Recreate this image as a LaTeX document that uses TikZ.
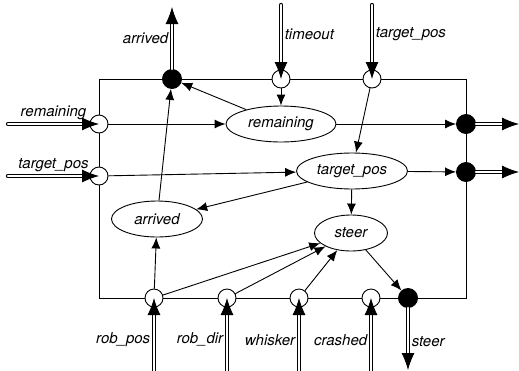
\documentclass[tikz,border=0pt]{standalone}
\usepackage{fontspec}
\setmainfont{TeX Gyre Heros}
\usetikzlibrary{arrows.meta,shapes}
\tikzset{>={Latex[length=11pt,width=9pt]}}
\tikzset{
  txt/.style = {font=\fontsize{15}{18}\selectfont\itshape},
  port/.style = {circle, draw, fill=white, minimum size=18pt, inner sep=0pt},
  outport/.style = {circle, draw, fill=black, minimum size=19pt, inner sep=0pt},
  proc/.style = {ellipse, draw, minimum height=36pt, inner sep=0pt, txt},
  flow/.style = {double, double distance=2.6pt, line width=0.9pt, line cap=round,
    -{Latex[length=17pt,width=13pt]}}
}

\begin{document}
\begin{tikzpicture}[x=1pt,y=-1pt,line width=0.9pt]
  \useasboundingbox (0,0) rectangle (519,370);
  % component
  \draw (99,79) rectangle (466,298);
  % processes
  \node[proc, minimum width=110pt] (remaining) at (281,124) {remaining};
  \node[proc, minimum width=111pt] (targetpos) at (352,171) {target\_pos};
  \node[proc, minimum width=91pt] (arrived) at (157,219) {arrived};
  \node[proc, minimum width=73pt] (steer) at (351,233) {steer};
  % ports
  \node[outport] (outArrived) at (172,79) {};
  \node[port] (inTimeout) at (281,79) {};
  \node[port] (inTpTop) at (372,79) {};
  \node[port] (inRem) at (99,124) {};
  \node[port] (inTpLeft) at (99,176) {};
  \node[outport] (outRem) at (466,124) {};
  \node[outport] (outTp) at (466,172) {};
  \node[port] (inRobPos) at (154,298) {};
  \node[port] (inRobDir) at (227,298) {};
  \node[port] (inWhisker) at (299,298) {};
  \node[port] (inCrashed) at (371,298) {};
  \node[outport] (outSteer) at (408,298) {};
  % free ends
  \coordinate (endArrived) at (172,7);
  \coordinate (srcTimeout) at (281,5);
  \coordinate (srcTpTop) at (372,5);
  \coordinate (srcRem) at (8,124);
  \coordinate (srcTpLeft) at (8,176);
  \coordinate (endRem) at (519,124);
  \coordinate (endTp) at (519,172);
  \coordinate (srcRobPos) at (154,374);
  \coordinate (srcRobDir) at (227,374);
  \coordinate (srcWhisker) at (299,374);
  \coordinate (srcCrashed) at (371,374);
  \coordinate (endSteer) at (408,370);
  % inner arrows
  \draw[->] (inTimeout) -- (remaining);
  \draw[->] (inRem) -- (remaining);
  \draw[->] (remaining) -- (outArrived);
  \draw[->] (remaining) -- (outRem);
  \draw[->] (inTpTop) -- (targetpos);
  \draw[->] (inTpLeft) -- (targetpos);
  \draw[->] (targetpos) -- (outTp);
  \draw[->] (targetpos) -- (arrived);
  \draw[->] (targetpos) -- (steer);
  \draw[->] (arrived) -- (outArrived);
  \draw[->] (inRobPos) -- (arrived);
  \draw[->] (inRobPos) -- (steer);
  \draw[->] (inRobDir) -- (steer);
  \draw[->] (inWhisker) -- (steer);
  \draw[->] (steer) -- (outSteer);
  % flows in and out
  \draw[flow] (outArrived) -- node[left, txt, name=lArrived] {arrived} (endArrived);
  \draw[flow] (srcTimeout) -- node[right, txt, pos=0.4, name=lTimeout] {timeout} (inTimeout.center);
  \draw[flow] (srcTpTop) -- node[right, txt, pos=0.4, name=lTpTop] {target\_pos} (inTpTop.center);
  \draw[flow] (srcRem) -- node[above, txt, name=lRem] {remaining} (inRem.center);
  \draw[flow] (srcTpLeft) -- node[above, txt, name=lTpLeft] {target\_pos} (inTpLeft.center);
  \draw[flow] (outRem) -- (endRem);
  \draw[flow] (outTp) -- (endTp);
  \draw[flow] (srcRobPos) -- node[left, txt, pos=0.45, name=lRobPos] {rob\_pos} (inRobPos.center);
  \draw[flow] (srcRobDir) -- node[left, txt, pos=0.45, name=lRobDir] {rob\_dir} (inRobDir.center);
  \draw[flow] (srcWhisker) -- node[left, txt, pos=0.45, name=lWhisker] {whisker} (inWhisker.center);
  \draw[flow] (srcCrashed) -- node[left, txt, pos=0.45, name=lCrashed] {crashed} (inCrashed.center);
  \draw[flow] (outSteer) -- node[right, txt, pos=0.55, name=lSteer] {steer} (endSteer);
\end{tikzpicture}
\end{document}
